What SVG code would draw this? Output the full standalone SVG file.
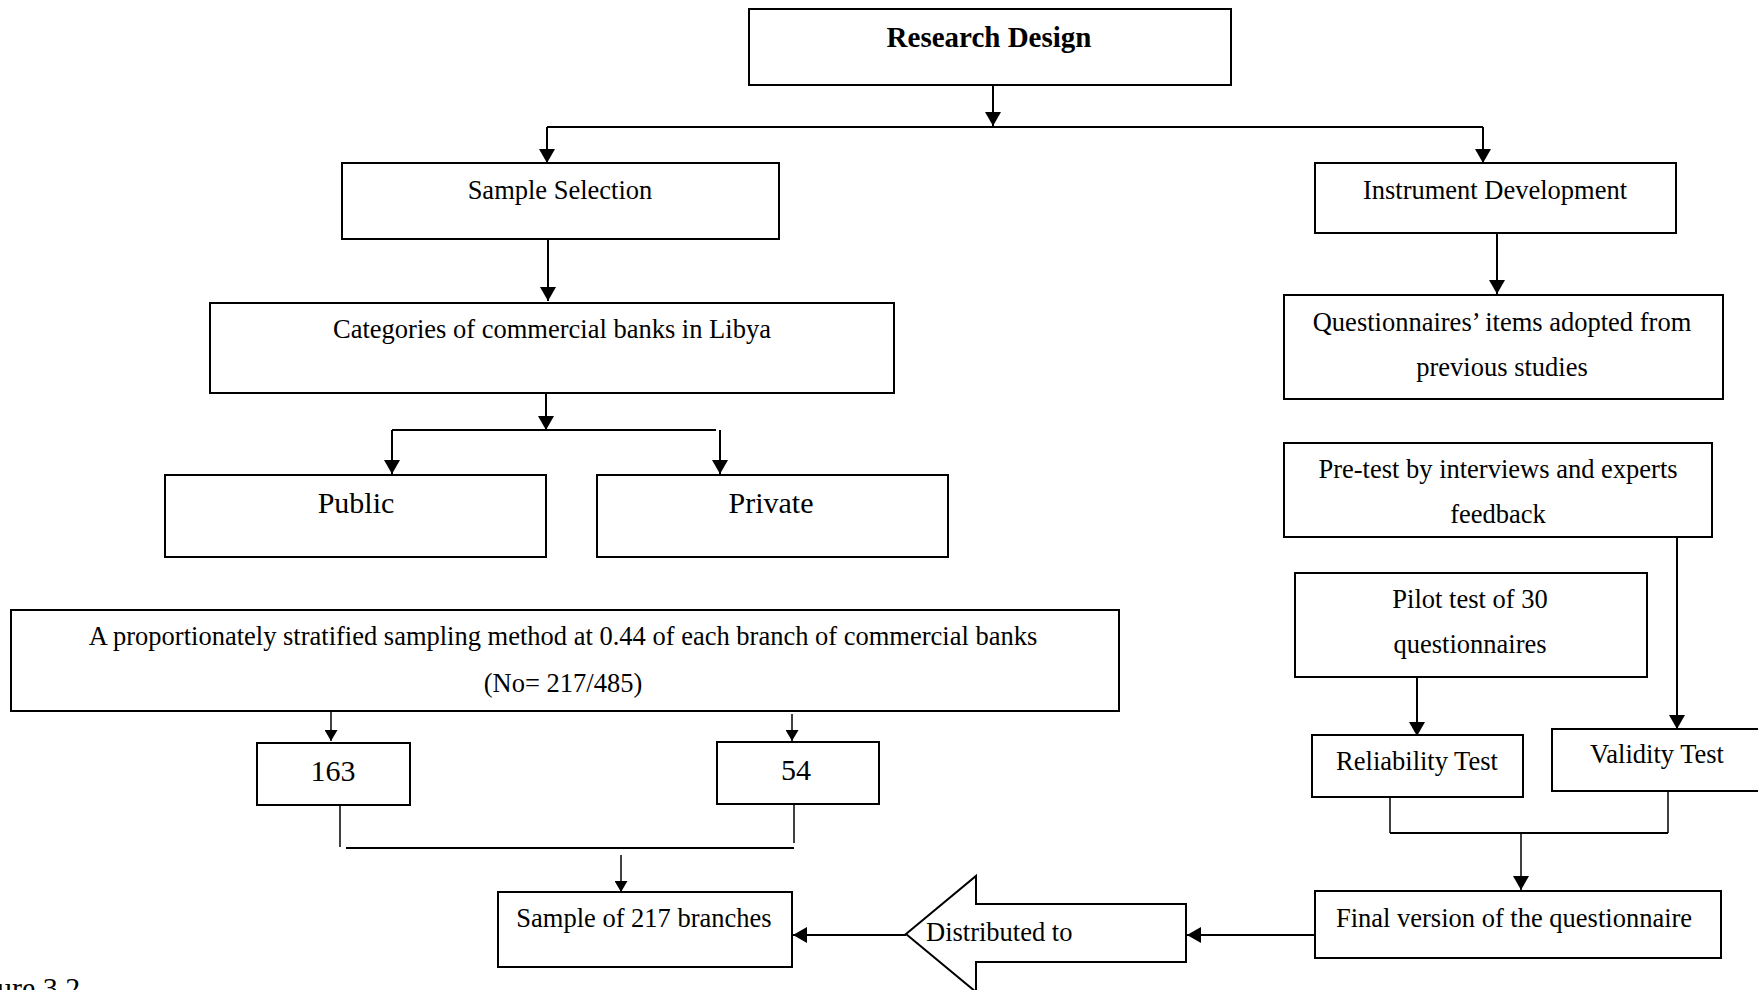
<svg xmlns="http://www.w3.org/2000/svg" width="1758" height="990" viewBox="0 0 1758 990">
<style>
.box{fill:#fff;stroke:#000;stroke-width:2}
.t{font-family:"Liberation Serif","Times New Roman",serif;font-size:26.5px;fill:#000;text-anchor:middle}
.big{font-size:30px}
.b{font-weight:bold;font-size:29px}
.c{fill:none;stroke:#000;stroke-width:2}
.thin{fill:none;stroke:#000;stroke-width:1.5}
</style>
<defs>
<marker id="ah" viewBox="0 0 14 16" markerWidth="14" markerHeight="16" refX="14" refY="8" orient="auto" markerUnits="userSpaceOnUse"><path d="M0,0 L14,8 L0,16 z" fill="#000"/></marker>
<marker id="as" viewBox="0 0 11 13" markerWidth="11" markerHeight="13" refX="11" refY="6.5" orient="auto" markerUnits="userSpaceOnUse"><path d="M0,0 L11,6.5 L0,13 z" fill="#000"/></marker>
</defs>
<rect width="1758" height="990" fill="#fff"/>
<g id="connectors">
<path class="c" d="M993,85 V126" marker-end="url(#ah)"/>
<path class="c" d="M547,127 H1483"/>
<path class="c" d="M547,127 V163" marker-end="url(#ah)"/>
<path class="c" d="M1483,127 V163" marker-end="url(#ah)"/>
<path class="c" d="M548,239 V301" marker-end="url(#ah)"/>
<path class="c" d="M1497,233 V294" marker-end="url(#ah)"/>
<path class="c" d="M546,393 V430" marker-end="url(#ah)"/>
<path class="c" d="M392,430 H716"/>
<path class="c" d="M392,430 V474" marker-end="url(#ah)"/>
<path class="c" d="M720,430 V474" marker-end="url(#ah)"/>
<path class="thin" d="M331,712 V741" marker-end="url(#as)"/>
<path class="thin" d="M792,714 V741" marker-end="url(#as)"/>
<path class="thin" d="M340,805 V847"/>
<path class="thin" d="M794,804 V843"/>
<path class="c" d="M346,848 H794"/>
<path class="thin" d="M621,855 V892" marker-end="url(#as)"/>
<path class="c" d="M1417,675 V736" marker-end="url(#ah)"/>
<path class="c" d="M1677,537 V729" marker-end="url(#ah)"/>
<path class="thin" d="M1390,797 V833"/>
<path class="thin" d="M1668,791 V833"/>
<path class="c" d="M1390,833 H1668"/>
<path class="thin" d="M1521,833 V890" marker-end="url(#ah)"/>
<path class="c" d="M1315,935 H1187" marker-end="url(#ah)"/>
<path class="c" d="M906,935 H793" marker-end="url(#ah)"/>
</g>
<g id="research-design"><rect class="box" x="749" y="9" width="482" height="76"/><text class="t b" x="989" y="47">Research Design</text></g>
<g id="sample-selection"><rect class="box" x="342" y="163" width="437" height="76"/><text class="t" x="560" y="199">Sample Selection</text></g>
<g id="instrument-development"><rect class="box" x="1315" y="163" width="361" height="70"/><text class="t" x="1495" y="199">Instrument Development</text></g>
<g id="categories"><rect class="box" x="210" y="303" width="684" height="90"/><text class="t" x="552" y="338">Categories of commercial banks in Libya</text></g>
<g id="questionnaire-items"><rect class="box" x="1284" y="295" width="439" height="104"/><text class="t" x="1502" y="331">Questionnaires’ items adopted from</text><text class="t" x="1502" y="376">previous studies</text></g>
<g id="public"><rect class="box" x="165" y="475" width="381" height="82"/><text class="t big" x="356" y="513">Public</text></g>
<g id="private"><rect class="box" x="597" y="475" width="351" height="82"/><text class="t big" x="771" y="513">Private</text></g>
<g id="pretest"><rect class="box" x="1284" y="443" width="428" height="94"/><text class="t" x="1498" y="478">Pre-test by interviews and experts</text><text class="t" x="1498" y="523">feedback</text></g>
<g id="proportionate"><rect class="box" x="11" y="610" width="1108" height="101"/><text class="t" x="563" y="645">A proportionately stratified sampling method at 0.44 of each branch of commercial banks</text><text class="t" x="563" y="692">(No= 217/485)</text></g>
<g id="pilot"><rect class="box" x="1295" y="573" width="352" height="104"/><text class="t" x="1470" y="608">Pilot test of 30</text><text class="t" x="1470" y="653">questionnaires</text></g>
<g id="n163"><rect class="box" x="257" y="743" width="153" height="62"/><text class="t big" x="333" y="781">163</text></g>
<g id="n54"><rect class="box" x="717" y="742" width="162" height="62"/><text class="t big" x="796" y="780">54</text></g>
<g id="reliability"><rect class="box" x="1312" y="735" width="211" height="62"/><text class="t" x="1417" y="770">Reliability Test</text></g>
<g id="validity"><rect class="box" x="1552" y="729" width="210" height="62"/><text class="t" x="1657" y="763">Validity Test</text></g>
<g id="sample-217"><rect class="box" x="498" y="892" width="294" height="75"/><text class="t" x="644" y="927">Sample of 217 branches</text></g>
<g id="distributed"><path class="box" d="M906,934 L976,876 V904 H1186 V962 H976 V992 Z"/><text class="t" x="926" y="941" style="text-anchor:start">Distributed to</text></g>
<g id="final-version"><rect class="box" x="1315" y="891" width="406" height="67"/><text class="t" x="1514" y="927">Final version of the questionnaire</text></g>
<text class="t big" x="-3" y="998" style="text-anchor:start">ure 3.2</text>
</svg>
